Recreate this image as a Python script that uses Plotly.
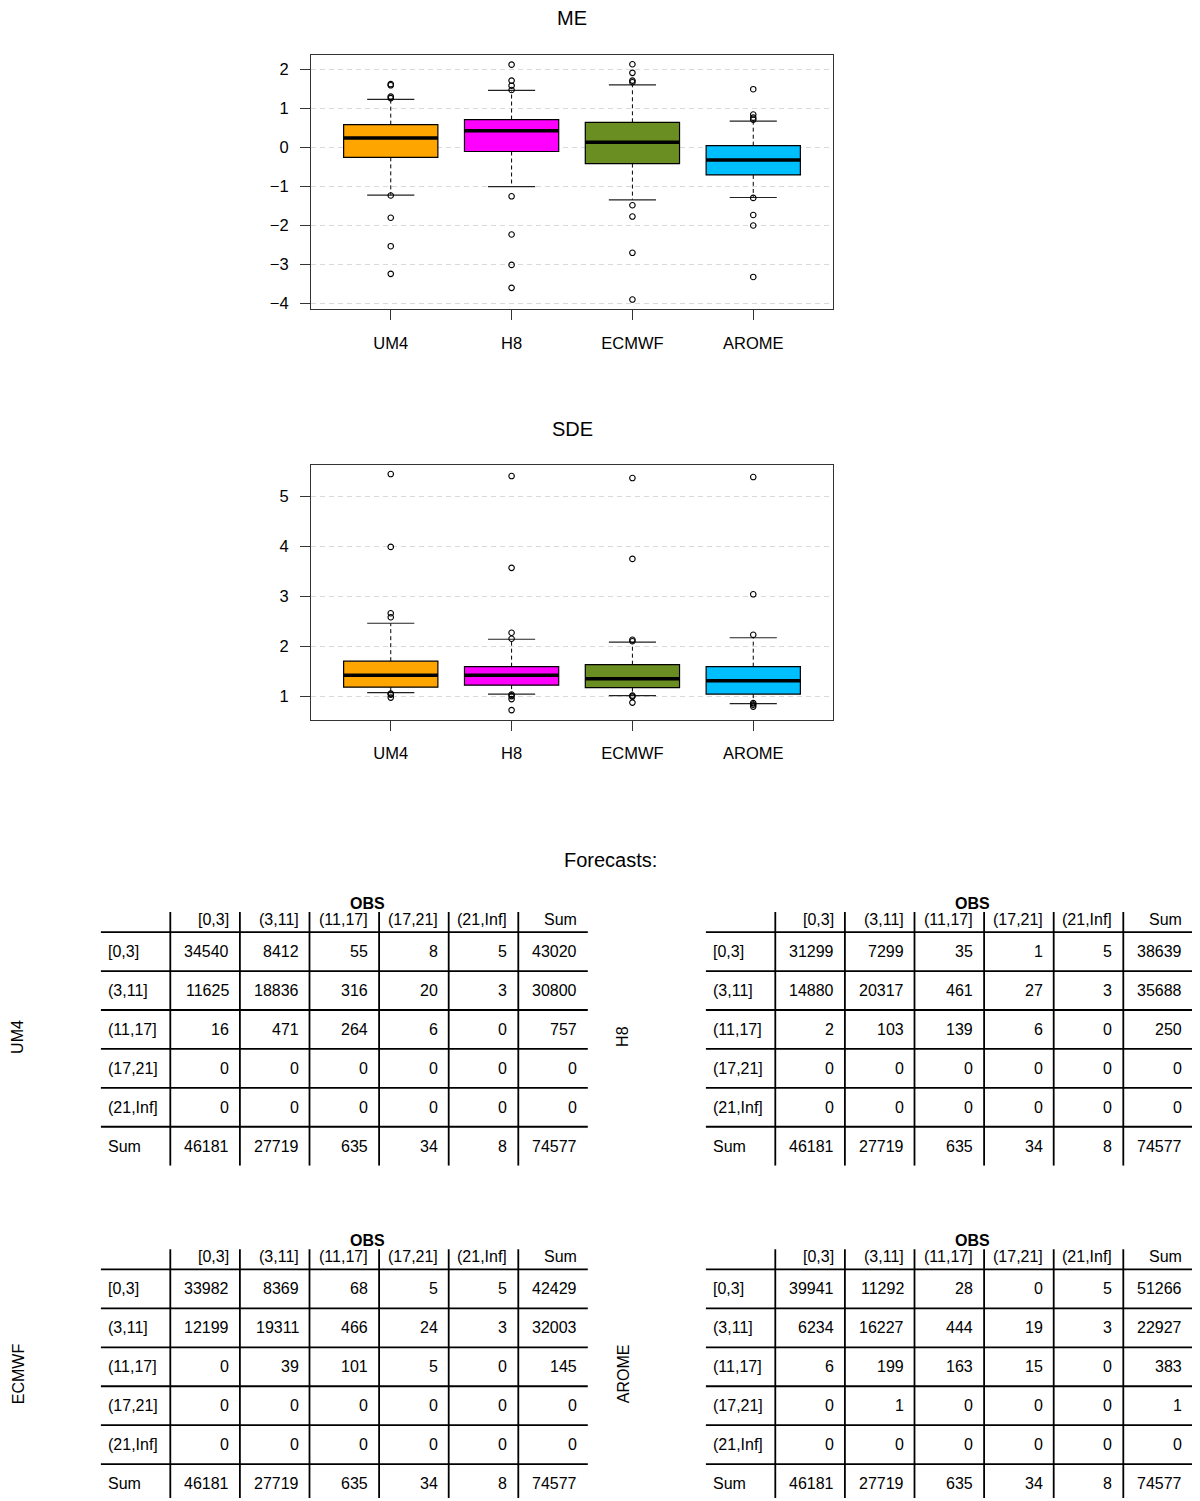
import plotly.graph_objects as go

W, H = 1200, 1501          # browser window (pixels)
OX, OY = 8, 8              # default page margin of the html body
FW, FH = W - OX, H - OY    # figure size
FONT = "Liberation Sans, Arial, Helvetica, sans-serif"

# ---------------- data ----------------
models = ["UM4", "H8", "ECMWF", "AROME"]
colors = ["#FFA500", "#FF00FF", "#6B8E23", "#00BFFF"]

me_q1 = [-0.25, -0.10, -0.41, -0.70]
me_median = [0.25, 0.43, 0.14, -0.32]
me_q3 = [0.59, 0.72, 0.65, 0.05]
me_lower = [-1.22, -1.00, -1.34, -1.28]
me_upper = [1.24, 1.47, 1.61, 0.68]
me_outliers = [
    [1.63, 1.60, 1.31, 1.27, -1.23, -1.80, -2.53, -3.24],
    [2.13, 1.72, 1.59, 1.48, -1.25, -2.23, -3.01, -3.60],
    [2.14, 1.92, 1.72, 1.68, -1.48, -1.77, -2.70, -3.90],
    [1.50, 0.85, 0.77, 0.72, -1.29, -1.73, -2.00, -3.32],
]

sde_q1 = [1.18, 1.22, 1.17, 1.04]
sde_median = [1.42, 1.42, 1.35, 1.31]
sde_q3 = [1.70, 1.59, 1.63, 1.59]
sde_lower = [1.07, 1.04, 1.01, 0.85]
sde_upper = [2.46, 2.14, 2.08, 2.17]
sde_outliers = [
    [5.45, 3.99, 2.66, 2.58, 1.05, 1.03, 0.97],
    [5.41, 3.57, 2.27, 2.15, 1.03, 1.00, 0.94, 0.72],
    [5.37, 3.75, 2.13, 2.10, 1.01, 0.99, 0.87],
    [5.39, 3.04, 2.23, 0.86, 0.83, 0.79],
]

me_ticks = [-4, -3, -2, -1, 0, 1, 2]
sde_ticks = [1, 2, 3, 4, 5]

classes = ["[0,3]", "(3,11]", "(11,17]", "(17,21]", "(21,Inf]"]
sum_label = "Sum"
obs_label = "OBS"

counts_um4 = [
    [34540, 8412, 55, 8, 5],
    [11625, 18836, 316, 20, 3],
    [16, 471, 264, 6, 0],
    [0, 0, 0, 0, 0],
    [0, 0, 0, 0, 0],
]
counts_h8 = [
    [31299, 7299, 35, 1, 5],
    [14880, 20317, 461, 27, 3],
    [2, 103, 139, 6, 0],
    [0, 0, 0, 0, 0],
    [0, 0, 0, 0, 0],
]
counts_ecmwf = [
    [33982, 8369, 68, 5, 5],
    [12199, 19311, 466, 24, 3],
    [0, 39, 101, 5, 0],
    [0, 0, 0, 0, 0],
    [0, 0, 0, 0, 0],
]
counts_arome = [
    [39941, 11292, 28, 0, 5],
    [6234, 16227, 444, 19, 3],
    [6, 199, 163, 15, 0],
    [0, 1, 0, 0, 0],
    [0, 0, 0, 0, 0],
]
tables = [counts_um4, counts_h8, counts_ecmwf, counts_arome]

# ---------------- figure ----------------
fig = go.Figure()


def px_x(p):
    return (p - OX) / FW


def px_y(p):
    return 1 - (p - OY) / FH


def add_boxplot(xa, ya, q1, med, q3, lo, up, outl):
    xs = list(range(1, len(models) + 1))
    for i, x in enumerate(xs):
        fig.add_trace(go.Box(
            x=[x], q1=[q1[i]], median=[med[i]], q3=[q3[i]],
            lowerfence=[q1[i]], upperfence=[q3[i]],
            width=0.78, whiskerwidth=0, fillcolor=colors[i],
            line=dict(color="black", width=1.2), boxpoints=False,
            xaxis=xa, yaxis=ya, showlegend=False, hoverinfo="skip"))
        # dashed whiskers
        fig.add_trace(go.Scatter(
            x=[x, x, None, x, x], y=[q3[i], up[i], None, q1[i], lo[i]],
            mode="lines", line=dict(color="black", width=1, dash="4px,3px"),
            xaxis=xa, yaxis=ya, showlegend=False, hoverinfo="skip"))
        # staples
        fig.add_trace(go.Scatter(
            x=[x - 0.195, x + 0.195, None, x - 0.195, x + 0.195],
            y=[up[i], up[i], None, lo[i], lo[i]],
            mode="lines", line=dict(color="#222222", width=1.2),
            xaxis=xa, yaxis=ya, showlegend=False, hoverinfo="skip"))
        # median
        fig.add_trace(go.Scatter(
            x=[x - 0.39, x + 0.39], y=[med[i], med[i]],
            mode="lines", line=dict(color="black", width=3.5),
            xaxis=xa, yaxis=ya, showlegend=False, hoverinfo="skip"))
        # outliers
        fig.add_trace(go.Scatter(
            x=[x] * len(outl[i]), y=outl[i], mode="markers",
            marker=dict(symbol="circle-open", size=5.5, color="black",
                        line=dict(width=1.1, color="black")),
            xaxis=xa, yaxis=ya, showlegend=False, hoverinfo="skip"))


add_boxplot("x", "y", me_q1, me_median, me_q3, me_lower, me_upper, me_outliers)
add_boxplot("x2", "y2", sde_q1, sde_median, sde_q3, sde_lower, sde_upper, sde_outliers)

axis_common = dict(
    showline=True, mirror=True, linecolor="#333333", linewidth=1.2,
    ticks="outside", ticklen=10, tickcolor="#333333", tickwidth=1.2,
    zeroline=False, tickfont=dict(size=16.5, color="black", family=FONT),
)

layout = dict(
    width=FW, height=FH, margin=dict(l=0, r=0, t=0, b=0),
    paper_bgcolor="white", plot_bgcolor="white",
    font=dict(family=FONT, color="black"),
    boxmode="overlay",
)

plot_left, plot_right = 311, 833
layout["xaxis"] = dict(axis_common, domain=[px_x(plot_left), px_x(plot_right)],
                       range=[0.34, 4.66], tickvals=[1, 2, 3, 4], ticktext=models,
                       showgrid=False, anchor="y", ticklabelstandoff=9)
layout["yaxis"] = dict(axis_common, domain=[px_y(309.5), px_y(55)],
                       range=[-4.14, 2.38], tickvals=me_ticks,
                       ticktext=[str(t).replace("-", "\u2212") for t in me_ticks],
                       showgrid=True, gridcolor="#d9d9d9", griddash="5px,4px",
                       gridwidth=1, anchor="x", ticklabelstandoff=8)
layout["xaxis2"] = dict(axis_common, domain=[px_x(plot_left), px_x(plot_right)],
                        range=[0.34, 4.66], tickvals=[1, 2, 3, 4], ticktext=models,
                        showgrid=False, anchor="y2", ticklabelstandoff=9)
layout["yaxis2"] = dict(axis_common, domain=[px_y(721), px_y(465.5)],
                        range=[0.53, 5.64], tickvals=sde_ticks,
                        ticktext=[str(t) for t in sde_ticks],
                        showgrid=True, gridcolor="#d9d9d9", griddash="5px,4px",
                        gridwidth=1, anchor="x2", ticklabelstandoff=8)

annotations = [
    dict(text="ME", x=px_x(572), y=px_y(18), xref="paper", yref="paper",
         showarrow=False, font=dict(size=20), xanchor="center", yanchor="middle"),
    dict(text="SDE", x=px_x(572), y=px_y(429.5), xref="paper", yref="paper",
         showarrow=False, font=dict(size=20), xanchor="center", yanchor="middle"),
    dict(text="Forecasts:", x=px_x(610), y=px_y(861.5), xref="paper", yref="paper",
         showarrow=False, font=dict(size=20), xanchor="center", yanchor="middle"),
]
shapes = []

# table placement (page pixels)
tab_left = [100.7, 705.7, 100.7, 705.7]
tab_top = [895, 895, 1233, 1233]
side_x = [18, 623, 18, 623]
side_y = [1039, 1039, 1377, 1377]
col_w = 69.6
row_h = 39.0
ncol = 7

for k, counts in enumerate(tables):
    ax = k + 3
    xr, yr = f"x{ax}", f"y{ax}"
    left = tab_left[k]
    right = left + ncol * col_w
    top = tab_top[k]
    bottom = min(top + 7 * row_h, H)
    layout[f"xaxis{ax}"] = dict(domain=[px_x(left), min(px_x(right), 1.0)],
                                range=[0, ncol * min(1.0, (W - left) / (right - left))],
                                visible=False, anchor=yr, fixedrange=True)
    layout[f"yaxis{ax}"] = dict(domain=[px_y(bottom), px_y(top)],
                                range=[-1 + (bottom - top) / row_h, -1],
                                visible=False, anchor=xr, fixedrange=True)
    # lines
    for r in range(0, 6):
        shapes.append(dict(type="line", xref=xr, yref=yr, x0=0, x1=ncol, y0=r, y1=r,
                           line=dict(color="black", width=1.8)))
    for c in range(1, ncol):
        shapes.append(dict(type="line", xref=xr, yref=yr, x0=c, x1=c, y0=-0.52, y1=6,
                           line=dict(color="black", width=1.8)))
    pad_r = 11 / col_w
    pad_l = 7.6 / col_w
    # header
    annotations.append(dict(text="<b>" + obs_label + "</b>", x=3.84, y=-0.74, xref=xr, yref=yr,
                            showarrow=False, font=dict(size=16), xanchor="center",
                            yanchor="middle", borderpad=0, borderwidth=0))
    headers = classes + [sum_label]
    for c, h in enumerate(headers):
        annotations.append(dict(text=h, x=c + 2 - pad_r, y=-0.33, xref=xr, yref=yr,
                                showarrow=False, font=dict(size=16), xanchor="right",
                                yanchor="middle", borderpad=0, borderwidth=0))
    # rows
    row_sums = [sum(row) for row in counts]
    col_sums = [sum(counts[r][c] for r in range(len(counts))) for c in range(len(classes))]
    rows = [counts[r] + [row_sums[r]] for r in range(len(counts))]
    rows.append(col_sums + [sum(row_sums)])
    labels = classes + [sum_label]
    for r, (lab, vals) in enumerate(zip(labels, rows)):
        annotations.append(dict(text=lab, x=pad_l, y=r + 0.5, xref=xr, yref=yr,
                                showarrow=False, font=dict(size=16), xanchor="left",
                                yanchor="middle", borderpad=0, borderwidth=0))
        for c, v in enumerate(vals):
            annotations.append(dict(text=str(v), x=c + 2 - pad_r, y=r + 0.5, xref=xr, yref=yr,
                                    showarrow=False, font=dict(size=16), xanchor="right",
                                    yanchor="middle", borderpad=0, borderwidth=0))
    annotations.append(dict(text=models[k], x=px_x(side_x[k]), y=px_y(side_y[k]),
                            xref="paper", yref="paper", showarrow=False, textangle=-90,
                            font=dict(size=16), xanchor="center", yanchor="middle"))

layout["annotations"] = annotations
layout["shapes"] = shapes
fig.update_layout(**layout)

fig.write_html("out.html")
